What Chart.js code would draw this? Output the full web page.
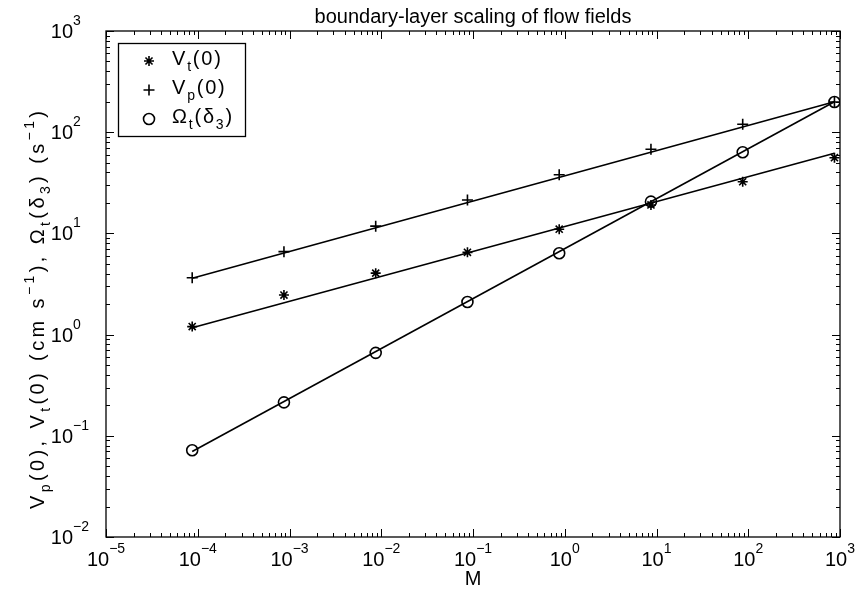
<!DOCTYPE html>
<html><head><meta charset="utf-8">
<script src="https://cdn.jsdelivr.net/npm/chart.js@4/dist/chart.umd.min.js"></script>
<style>html,body{margin:0;padding:0;background:#fff}#wrap{width:857px;height:608px;position:relative}</style>
</head><body><div id="wrap"><canvas id="c"></canvas></div>
<script>
// ---- data ----
const M      = [8.7e-5, 8.7e-4, 8.7e-3, 8.7e-2, 0.87, 8.7, 87, 870];
const Vt0    = [1.2, 2.46, 4.05, 6.5, 11.0, 19.1, 32.4, 56];
const Vp0    = [3.65, 6.6, 11.8, 21.4, 38, 67.8, 119.7, 199];
const OmT    = [0.072, 0.214, 0.66, 2.1, 6.36, 20.6, 63.3, 199];
// power-law fit lines (values at first and last M)
const fitM   = [8.7e-5, 870];
const fitVt  = [1.17, 62];
const fitVp  = [3.6, 200];
const fitOm  = [0.07, 200];
// axis tick exponents (labels are 10^e)
const xTickExp = [-5, -4, -3, -2, -1, 0, 1, 2, 3];
const yTickExp = [-2, -1, 0, 1, 2, 3];
const titleText = 'boundary-layer scaling of flow fields';
const xTitle = 'M';

const FONT = '"Liberation Sans", Arial, Helvetica, sans-serif';
const pts = (xs, ys) => xs.map((x, i) => ({x, y: ys[i]}));
const SUB_DROP = 6;

function segW(ctx, s, big, small, sp) {
  ctx.font = (s.sub || s.sup ? small : big) + 'px ' + FONT;
  if (!sp) return ctx.measureText(s.t).width;
  let w = 0;
  for (const ch of s.t) w += ctx.measureText(ch).width + sp;
  return w;
}
function runs(ctx, segs, x, y, big, small, sp, raise) {
  let cx = x;
  for (const s of segs) {
    ctx.font = (s.sub || s.sup ? small : big) + 'px ' + FONT;
    const dy = s.sub ? SUB_DROP : (s.sup ? -(raise || 13) : 0);
    if (!sp) {
      ctx.fillText(s.t, cx, y + dy);
      cx += ctx.measureText(s.t).width;
    } else {
      for (const ch of s.t) {
        ctx.fillText(ch, cx, y + dy);
        cx += ctx.measureText(ch).width + sp;
      }
    }
  }
  return cx - x;
}
function runsWidth(ctx, segs, big, small, sp) {
  let w = 0;
  for (const s of segs) w += segW(ctx, s, big, small, sp);
  return w;
}
const expStr = e => (e < 0 ? '\u2212' : '') + Math.abs(e);

const axesPlugin = {
  id: 'matlabAxes',
  afterDraw(chart) {
    const ctx = chart.ctx, a = chart.chartArea;
    const xs = chart.scales.x, ys = chart.scales.y;
    ctx.save();
    ctx.strokeStyle = '#000'; ctx.fillStyle = '#000';
    ctx.lineWidth = 1.3;
    ctx.strokeRect(a.left, a.top, a.right - a.left, a.bottom - a.top);
    // ticks inward on all sides
    ctx.lineWidth = 1;
    ctx.beginPath();
    for (let i = 0; i < xTickExp.length; i++) {
      const e = xTickExp[i];
      for (let m = 1; m <= 9; m++) {
        if (i === xTickExp.length - 1 && m > 1) break;
        const px = Math.round(xs.getPixelForValue(m * Math.pow(10, e))) + 0.5;
        const L = m === 1 ? 8 : 4;
        ctx.moveTo(px, a.bottom); ctx.lineTo(px, a.bottom - L);
        ctx.moveTo(px, a.top); ctx.lineTo(px, a.top + L);
      }
    }
    for (let i = 0; i < yTickExp.length; i++) {
      const e = yTickExp[i];
      for (let m = 1; m <= 9; m++) {
        if (i === yTickExp.length - 1 && m > 1) break;
        const py = Math.round(ys.getPixelForValue(m * Math.pow(10, e))) + 0.5;
        const L = m === 1 ? 8 : 4;
        ctx.moveTo(a.left, py); ctx.lineTo(a.left + L, py);
        ctx.moveTo(a.right, py); ctx.lineTo(a.right - L, py);
      }
    }
    ctx.stroke();
    // tick labels
    ctx.textAlign = 'left'; ctx.textBaseline = 'alphabetic';
    for (const e of xTickExp) {
      const segs = [{t: '10'}, {t: expStr(e), sup: true}];
      const w = runsWidth(ctx, segs, 20, 14);
      const px = xs.getPixelForValue(Math.pow(10, e));
      runs(ctx, segs, px - w / 2, a.bottom + 29, 20, 14, 0, 13);
    }
    for (const e of yTickExp) {
      const py = ys.getPixelForValue(Math.pow(10, e));
      ctx.font = '20px ' + FONT;
      const w10 = ctx.measureText('10').width;
      runs(ctx, [{t: '10'}, {t: expStr(e), sup: true}], 73 - w10, py + 7, 20, 14, 0, 13);
    }
    // x title
    ctx.font = '20px ' + FONT; ctx.textAlign = 'center';
    ctx.fillText(xTitle, (a.left + a.right) / 2, a.bottom + 48);
    // chart title
    ctx.fillText(titleText, (a.left + a.right) / 2, 23);
    // y title (rotated)
    ctx.textAlign = 'left';
    const yt = [{t: 'V'}, {t: 'p', sub: 1}, {t: '(0), V'}, {t: 't', sub: 1}, {t: '(0) (cm s'}, {t: '\u22121', sup: 1},
                {t: '), \u03A9'}, {t: 't', sub: 1}, {t: '(\u03B4'}, {t: '3', sub: 1}, {t: ') (s'}, {t: '\u22121', sup: 1}, {t: ')'}];
    const SP = 3.4;
    const wy = runsWidth(ctx, yt, 20, 14, SP) - SP;
    ctx.save();
    ctx.translate(44, 310);
    ctx.rotate(-Math.PI / 2);
    runs(ctx, yt, -wy / 2, 0, 20, 14, SP, 10);
    ctx.restore();
    // legend
    const lx = 118.5, ly = 43.5, lw = 127, lh = 93;
    ctx.fillStyle = '#fff';
    ctx.fillRect(lx, ly, lw, lh);
    ctx.strokeStyle = '#000'; ctx.lineWidth = 1.3;
    ctx.strokeRect(lx, ly, lw, lh);
    ctx.fillStyle = '#000';
    const entries = [
      {style: 'star', segs: [{t: 'V'}, {t: 't', sub: 1}, {t: '(0)'}]},
      {style: 'cross', segs: [{t: 'V'}, {t: 'p', sub: 1}, {t: '(0)'}]},
      {style: 'circle', segs: [{t: '\u03A9'}, {t: 't', sub: 1}, {t: '(\u03B4'}, {t: '3', sub: 1}, {t: ')'}]}
    ];
    entries.forEach((en, i) => {
      const cy = 61 + i * 29, cx = 149;
      ctx.lineWidth = 1.6; ctx.beginPath();
      if (en.style === 'star') {
        const r = 5, d = r * Math.SQRT1_2;
        ctx.moveTo(cx - r, cy); ctx.lineTo(cx + r, cy);
        ctx.moveTo(cx, cy - r); ctx.lineTo(cx, cy + r);
        ctx.moveTo(cx - d, cy - d); ctx.lineTo(cx + d, cy + d);
        ctx.moveTo(cx - d, cy + d); ctx.lineTo(cx + d, cy - d);
      } else if (en.style === 'cross') {
        ctx.moveTo(cx - 5.5, cy); ctx.lineTo(cx + 5.5, cy);
        ctx.moveTo(cx, cy - 5.5); ctx.lineTo(cx, cy + 5.5);
      } else {
        ctx.arc(cx, cy, 5.5, 0, Math.PI * 2);
      }
      ctx.stroke();
      runs(ctx, en.segs, 172, cy + 4, 20, 14, 1.8);
    });
    ctx.restore();
  }
};

const lineDs = (data) => ({data, showLine: true, borderColor: '#000', borderWidth: 1.6,
  pointRadius: 0, fill: false, tension: 0, order: 2});
const markDs = (data, style, r) => ({data, showLine: false, pointStyle: style, pointRadius: r,
  pointHoverRadius: r, borderColor: '#000', backgroundColor: 'rgba(0,0,0,0)', pointBorderWidth: 1.6, order: 1});

new Chart(document.getElementById('c'), {
  type: 'scatter',
  data: {datasets: [
    lineDs(pts(fitM, fitVt)),
    lineDs(pts(fitM, fitVp)),
    lineDs(pts(fitM, fitOm)),
    markDs(pts(M, Vt0), 'star', 5),
    markDs(pts(M, Vp0), 'cross', 5.5),
    markDs(pts(M, OmT), 'circle', 5.5)
  ]},
  options: {
    responsive: true, maintainAspectRatio: false, animation: false,
    layout: {padding: {left: 106, right: 17, top: 31, bottom: 71}},
    plugins: {legend: {display: false}, title: {display: false}, tooltip: {enabled: false}},
    scales: {
      x: {type: 'logarithmic', min: 1e-5, max: 1e3, display: false},
      y: {type: 'logarithmic', min: 1e-2, max: 1e3, display: false}
    }
  },
  plugins: [axesPlugin]
});
</script></body></html>
